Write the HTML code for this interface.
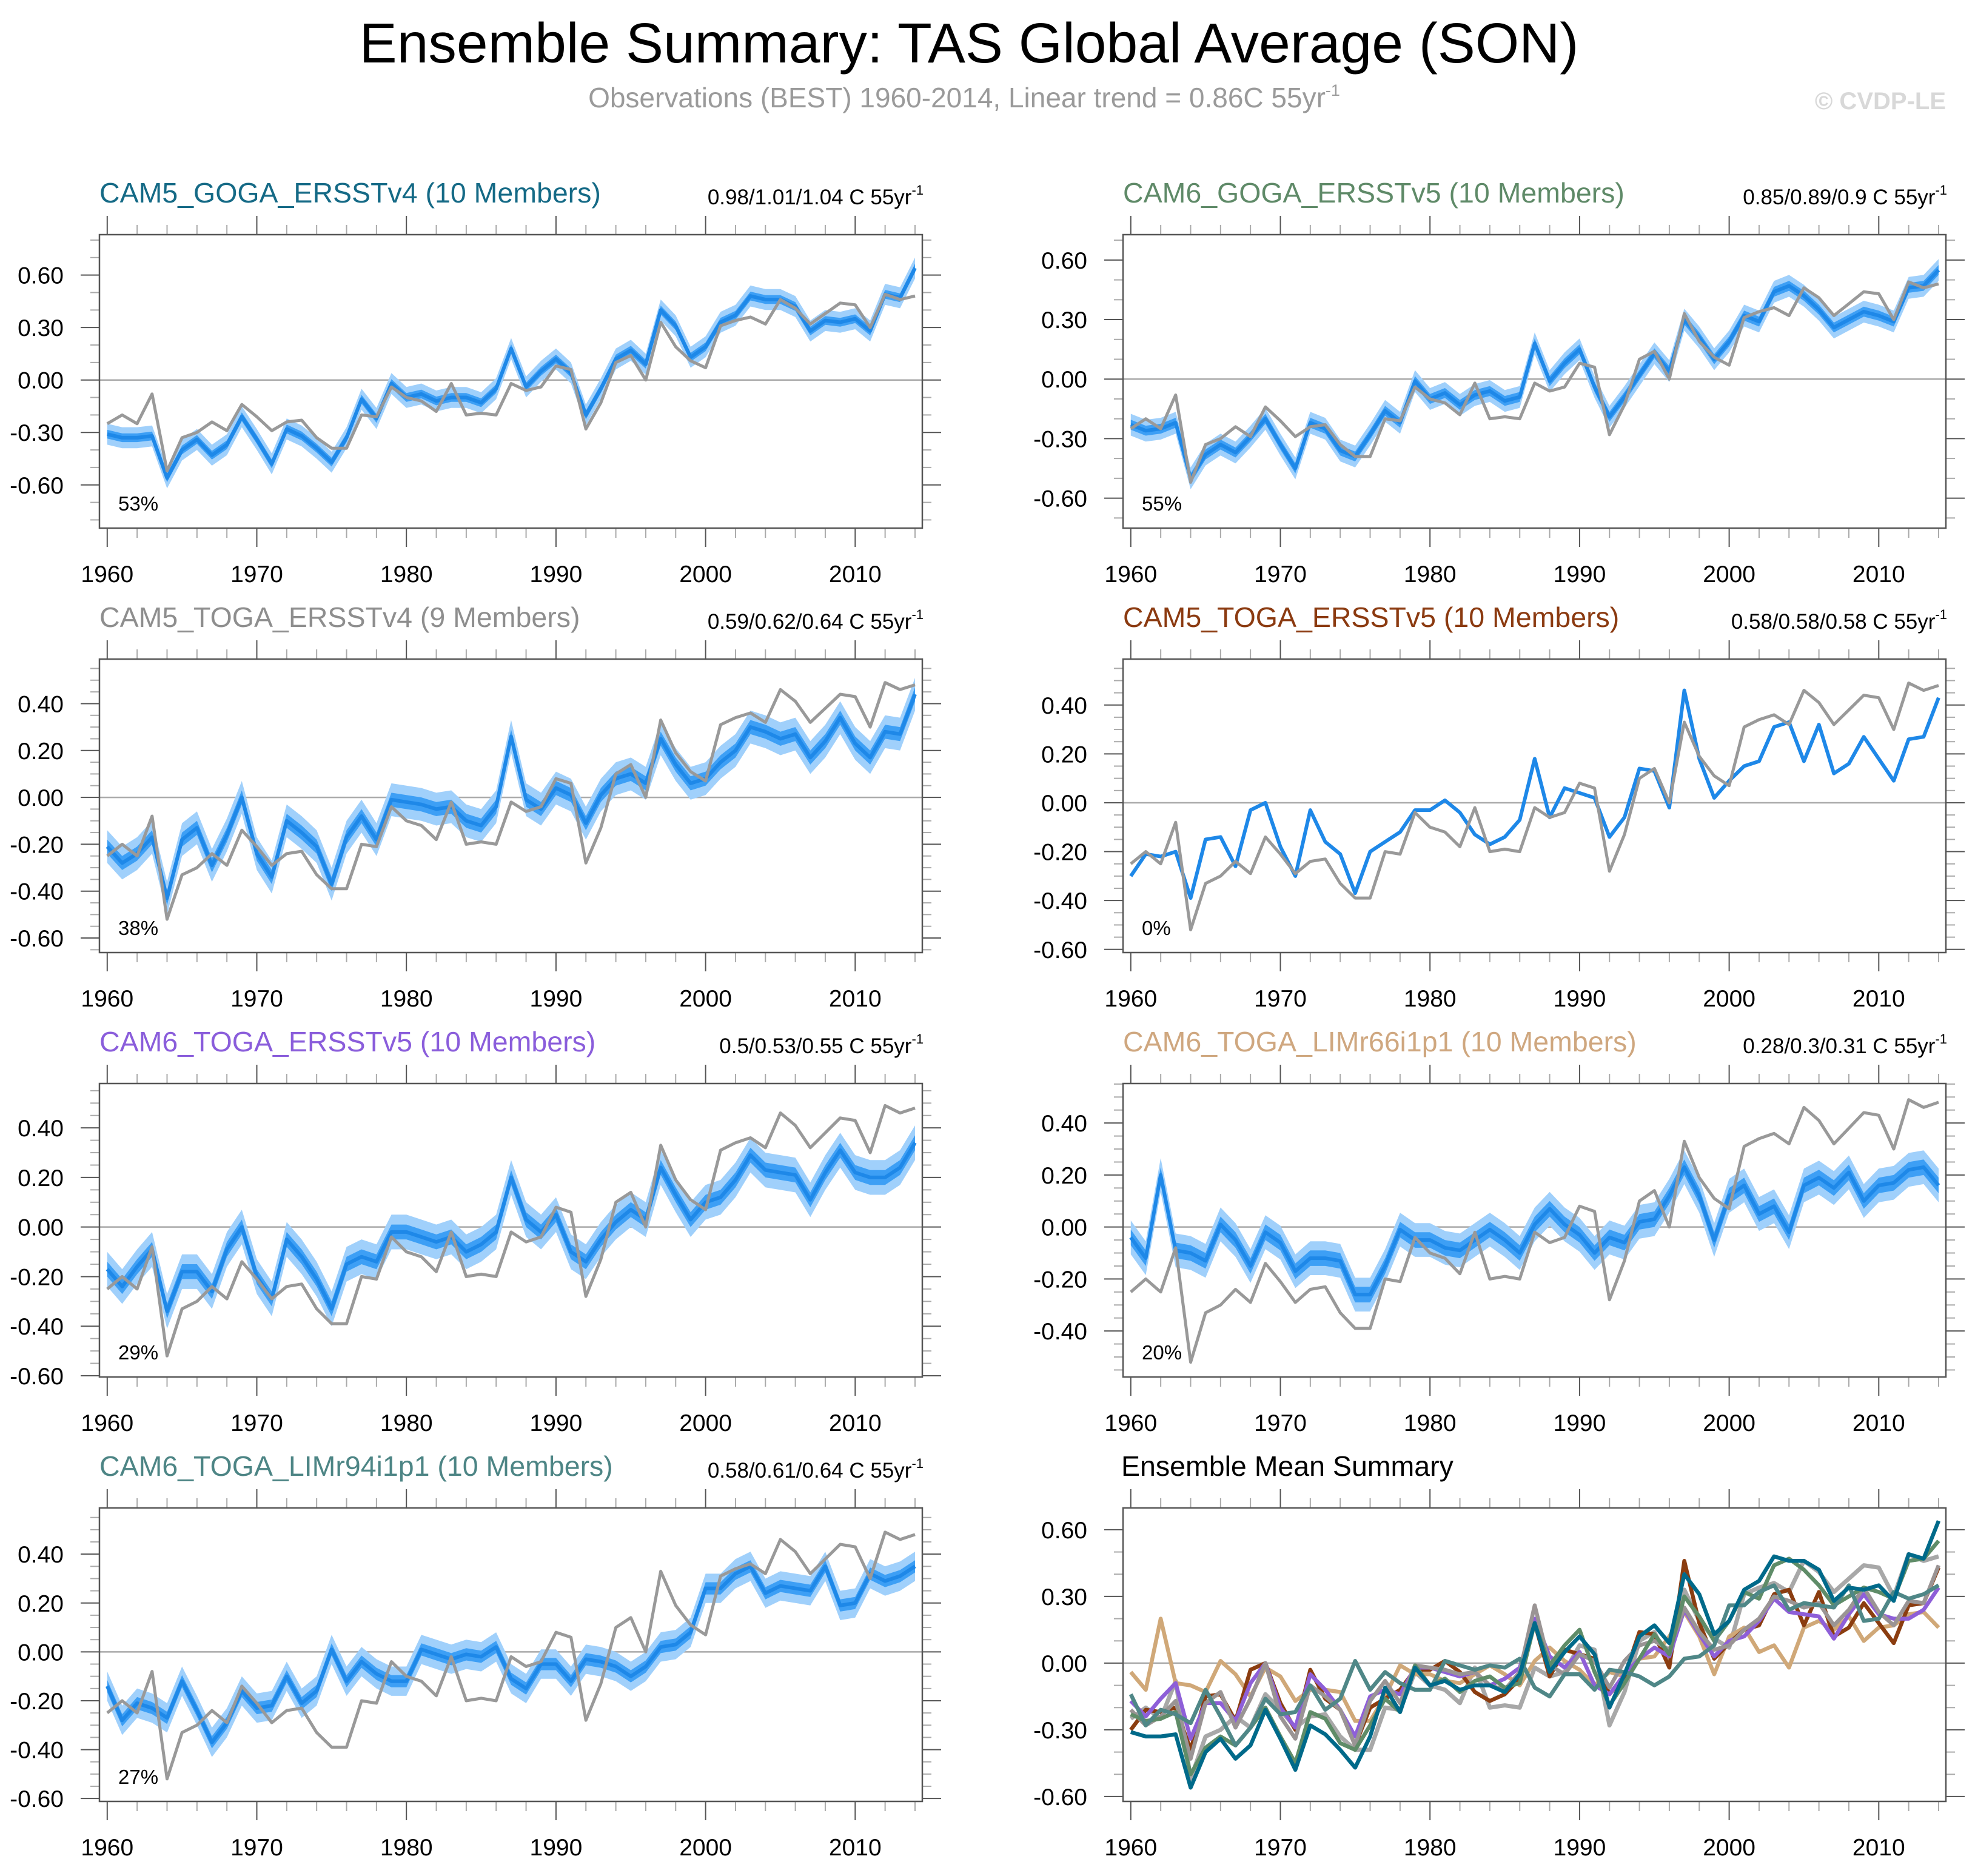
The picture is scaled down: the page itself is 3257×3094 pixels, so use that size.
<!DOCTYPE html>
<html><head><meta charset="utf-8"><title>Ensemble Summary: TAS Global Average (SON)</title>
<style>
html,body{margin:0;padding:0;background:#fff;}
svg{display:block;font-family:"Liberation Sans",Arial,sans-serif;}
</style></head>
<body>
<svg id="fig" xmlns="http://www.w3.org/2000/svg" width="3257" height="3094" viewBox="0 0 3257 3094">
<rect x="0" y="0" width="3257" height="3094" fill="#fff"/>
<text x="1598" y="103" font-size="93" text-anchor="middle" fill="#000">Ensemble Summary: TAS Global Average (SON)</text>
<text x="1590" y="177" font-size="46" text-anchor="middle" fill="#9a9a9a">Observations (BEST) 1960-2014, Linear trend = 0.86C 55yr<tspan font-size="27" dy="-19">-1</tspan></text>
<text x="3209" y="180" font-size="40" font-weight="bold" text-anchor="end" fill="#d8d8d8">© CVDP-LE</text>
</svg>
<script>
const years=[1960,1961,1962,1963,1964,1965,1966,1967,1968,1969,1970,1971,1972,1973,1974,1975,1976,1977,1978,1979,1980,1981,1982,1983,1984,1985,1986,1987,1988,1989,1990,1991,1992,1993,1994,1995,1996,1997,1998,1999,2000,2001,2002,2003,2004,2005,2006,2007,2008,2009,2010,2011,2012,2013,2014];
const obs=[-0.25,-0.20,-0.25,-0.08,-0.52,-0.33,-0.30,-0.24,-0.29,-0.14,-0.21,-0.29,-0.24,-0.23,-0.33,-0.39,-0.39,-0.20,-0.21,-0.04,-0.10,-0.12,-0.18,-0.02,-0.20,-0.19,-0.20,-0.02,-0.06,-0.04,0.08,0.06,-0.28,-0.13,0.10,0.14,0.00,0.33,0.19,0.11,0.07,0.31,0.34,0.36,0.32,0.46,0.41,0.32,0.38,0.44,0.43,0.30,0.49,0.46,0.48];
const mCam5Goga=[-0.31,-0.33,-0.33,-0.32,-0.56,-0.40,-0.34,-0.43,-0.37,-0.21,-0.34,-0.48,-0.28,-0.32,-0.39,-0.47,-0.33,-0.11,-0.22,-0.02,-0.10,-0.08,-0.12,-0.10,-0.10,-0.13,-0.05,0.18,-0.04,0.05,0.12,0.04,-0.20,-0.05,0.12,0.17,0.09,0.40,0.31,0.13,0.19,0.33,0.37,0.48,0.46,0.46,0.42,0.28,0.34,0.33,0.35,0.28,0.49,0.47,0.64];
const mCam6Goga=[-0.23,-0.26,-0.25,-0.22,-0.50,-0.38,-0.33,-0.37,-0.29,-0.20,-0.33,-0.45,-0.22,-0.25,-0.36,-0.39,-0.28,-0.16,-0.22,-0.01,-0.10,-0.07,-0.13,-0.08,-0.06,-0.11,-0.09,0.18,-0.01,0.08,0.15,-0.04,-0.19,-0.09,0.02,0.13,0.04,0.30,0.21,0.10,0.19,0.32,0.29,0.44,0.47,0.42,0.35,0.26,0.30,0.34,0.32,0.29,0.46,0.47,0.55];
const mCam5TogaV4=[-0.21,-0.28,-0.24,-0.17,-0.43,-0.18,-0.13,-0.29,-0.16,0.00,-0.24,-0.34,-0.10,-0.15,-0.21,-0.37,-0.17,-0.08,-0.18,-0.01,-0.02,-0.03,-0.05,-0.04,-0.10,-0.12,-0.04,0.26,-0.01,-0.05,0.04,0.01,-0.11,0.01,0.08,0.10,0.06,0.25,0.14,0.06,0.08,0.15,0.20,0.30,0.28,0.25,0.27,0.17,0.24,0.34,0.23,0.17,0.28,0.27,0.44];
const mCam5TogaV5=[-0.30,-0.21,-0.22,-0.20,-0.39,-0.15,-0.14,-0.26,-0.03,0.00,-0.18,-0.30,-0.03,-0.16,-0.21,-0.37,-0.20,-0.16,-0.12,-0.03,-0.03,0.01,-0.04,-0.13,-0.17,-0.14,-0.07,0.18,-0.06,0.06,0.04,0.02,-0.14,-0.06,0.14,0.13,-0.02,0.46,0.18,0.02,0.09,0.15,0.17,0.31,0.33,0.17,0.32,0.12,0.16,0.27,0.18,0.09,0.26,0.27,0.43];
const mCam6TogaV5=[-0.17,-0.24,-0.16,-0.09,-0.34,-0.18,-0.18,-0.26,-0.09,0.00,-0.20,-0.29,-0.05,-0.12,-0.21,-0.33,-0.15,-0.12,-0.14,-0.02,-0.02,-0.04,-0.06,-0.04,-0.10,-0.07,-0.02,0.20,0.03,-0.02,0.05,-0.10,-0.14,-0.05,0.02,0.07,0.03,0.24,0.13,0.03,0.10,0.12,0.19,0.29,0.23,0.22,0.21,0.11,0.22,0.31,0.22,0.20,0.20,0.24,0.34];
const mLim66=[-0.04,-0.12,0.20,-0.09,-0.10,-0.13,0.01,-0.05,-0.15,-0.02,-0.06,-0.17,-0.12,-0.12,-0.13,-0.26,-0.26,-0.15,-0.01,-0.05,-0.05,-0.08,-0.09,-0.05,-0.01,-0.05,-0.10,0.01,0.07,0.01,-0.03,-0.10,-0.04,-0.06,0.02,0.03,0.12,0.23,0.12,-0.05,0.12,0.16,0.05,0.08,-0.02,0.16,0.19,0.15,0.21,0.10,0.16,0.17,0.22,0.23,0.16];
const mLim94=[-0.14,-0.28,-0.21,-0.23,-0.27,-0.12,-0.24,-0.37,-0.29,-0.16,-0.23,-0.22,-0.10,-0.21,-0.16,0.01,-0.12,-0.04,-0.09,-0.12,-0.12,0.01,-0.01,-0.03,-0.01,-0.02,0.02,-0.11,-0.15,-0.05,-0.05,-0.12,-0.03,-0.04,-0.06,-0.10,-0.06,0.02,0.03,0.08,0.26,0.26,0.32,0.35,0.24,0.27,0.26,0.25,0.35,0.19,0.20,0.32,0.29,0.31,0.35];
const spreads=[[0.025,0.06],[0.025,0.055],[0.03,0.07],[0,0],[0.03,0.07],[0.03,0.065],[0.025,0.06]];
const percents=["53%","55%","38%","0%","29%","20%","27%"];
const trends=["0.98/1.01/1.04 C 55yr","0.85/0.89/0.9 C 55yr","0.59/0.62/0.64 C 55yr","0.58/0.58/0.58 C 55yr","0.5/0.53/0.55 C 55yr","0.28/0.3/0.31 C 55yr","0.58/0.61/0.64 C 55yr"];
const names=["CAM5_GOGA_ERSSTv4 (10 Members)","CAM6_GOGA_ERSSTv5 (10 Members)","CAM5_TOGA_ERSSTv4 (9 Members)","CAM5_TOGA_ERSSTv5 (10 Members)","CAM6_TOGA_ERSSTv5 (10 Members)","CAM6_TOGA_LIMr66i1p1 (10 Members)","CAM6_TOGA_LIMr94i1p1 (10 Members)"];
const nameColors=["#156a86","#5f8a68","#8e8e8e","#8b3a10","#8a5ddb","#cfa77f","#4d8585"];
const summaryColors=["#006a8a","#5f8c68","#9a9494","#8b3d10","#8e5fd8","#d0a878","#4f8787"];
const means=[mCam5Goga,mCam6Goga,mCam5TogaV4,mCam5TogaV5,mCam6TogaV5,mLim66,mLim94];
const yTicks03=[-0.6,-0.3,0,0.3,0.6];
const yTicks02=[-0.6,-0.4,-0.2,0,0.2,0.4];
const xTickYears=[1960,1970,1980,1990,2000,2010];

const NS="http://www.w3.org/2000/svg";
const svg=document.getElementById('fig');
function mk(tag,attrs,parent){const e=document.createElementNS(NS,tag);for(const k in attrs)e.setAttribute(k,attrs[k]);(parent||svg).appendChild(e);return e;}

const W=1357,H=484;
const panelDefs=[
 {x0:164,y0:387,ymin:-0.847,ymax:0.831,ticks:yTicks03,minor:0.1},
 {x0:1852,y0:387,ymin:-0.751,ymax:0.728,ticks:yTicks03,minor:0.1},
 {x0:164,y0:1087,ymin:-0.662,ymax:0.590,ticks:yTicks02,minor:0.05},
 {x0:1852,y0:1087,ymin:-0.613,ymax:0.588,ticks:yTicks02,minor:0.05},
 {x0:164,y0:1787,ymin:-0.605,ymax:0.579,ticks:yTicks02,minor:0.05},
 {x0:1852,y0:1787,ymin:-0.577,ymax:0.552,ticks:[-0.4,-0.2,0,0.2,0.4],minor:0.05},
 {x0:164,y0:2487,ymin:-0.612,ymax:0.589,ticks:yTicks02,minor:0.05},
 {x0:1852,y0:2487,ymin:-0.622,ymax:0.698,ticks:yTicks03,minor:0.1}
];
function xs(p,yr){return p.x0+12.8+(yr-1960)*24.67;}
function ys(p,v){return p.y0+(p.ymax-v)/(p.ymax-p.ymin)*H;}
function pts(p,arr){return arr.map((v,i)=>xs(p,years[i]).toFixed(1)+','+ys(p,v).toFixed(1)).join(' ');}

function drawAxes(p,g){
  const start=Math.ceil(p.ymin/p.minor-1e-6),end=Math.floor(p.ymax/p.minor+1e-6);
  for(let k=start;k<=end;k++){
    const v=k*p.minor;const y=ys(p,v);
    const major=p.ticks.some(t=>Math.abs(t-v)<1e-6);
    const len=major?31:15;
    const t1=mk('line',{x1:p.x0-len,y1:y,x2:p.x0,y2:y,stroke:major?'#555':'#aaa','stroke-width':2},g);
    
    
    const t2=mk('line',{x1:p.x0+W,y1:y,x2:p.x0+W+len,y2:y,stroke:major?'#555':'#aaa','stroke-width':2},g);
    
    
  }
  p.ticks.forEach(v=>{
    const t=mk('text',{x:p.x0-59,y:ys(p,v)+14,'font-size':39,'text-anchor':'end',fill:'#000'},g);
    
    
    t.textContent=v.toFixed(2);
  });
  for(let yr=1960;yr<=2014;yr+=2){
    const x=xs(p,yr);const major=(yr%10===0);const len=major?31:16;
    const a=mk('line',{x1:x,y1:p.y0-len,x2:x,y2:p.y0,stroke:major?'#555':'#aaa','stroke-width':2},g);
    
    
    const b=mk('line',{x1:x,y1:p.y0+H,x2:x,y2:p.y0+H+len,stroke:major?'#555':'#aaa','stroke-width':2},g);
    
    
  }
  xTickYears.forEach(yr=>{
    const t=mk('text',{x:xs(p,yr),y:p.y0+H+89,'font-size':39,'text-anchor':'middle',fill:'#000'},g);
    
    
    t.textContent=String(yr);
  });
  const z=mk('line',{x1:p.x0,y1:ys(p,0),x2:p.x0+W,y2:ys(p,0),stroke:'#aaa','stroke-width':2.5},g);
  
  
}
function drawBox(p,g){
  const r=mk('rect',{x:p.x0,y:p.y0,width:W,height:H,fill:'none',stroke:'#555','stroke-width':2.5},g);
  
  
}
function band(p,arr,s,fill,g,nm){
  const up=arr.map((v,i)=>xs(p,years[i]).toFixed(1)+','+ys(p,v+s).toFixed(1));
  const dn=arr.map((v,i)=>xs(p,years[i]).toFixed(1)+','+ys(p,v-s).toFixed(1)).reverse();
  const poly=mk('polygon',{points:up.concat(dn).join(' '),fill:fill,stroke:'none'},g);
  
  
}

for(let i=0;i<7;i++){
  const p=panelDefs[i];
  const g=mk('g',{});
  
  
  const tt=mk('text',{x:p.x0,y:p.y0-53,'font-size':46.5,fill:nameColors[i]},g);
  
  
  tt.textContent=names[i];
  const tr=mk('text',{x:p.x0+W+2,y:p.y0-50,'font-size':35,'text-anchor':'end',fill:'#000'},g);
  
  
  tr.textContent=trends[i];
  const sup=mk('tspan',{'font-size':22,dy:-16},tr);
  sup.textContent='-1';
  drawAxes(p,g);
  const m=means[i];
  if(spreads[i][1]>0){
    band(p,m,spreads[i][1],'#a0d0fb',g,'spread-band-outer');
    band(p,m,spreads[i][0],'#3d9ff5',g,'spread-band-inner');
  }
  const ml=mk('polyline',{points:pts(p,m),fill:'none',stroke:'#1e88e8','stroke-width':6,'stroke-linejoin':'round'},g);
  
  
  const ol=mk('polyline',{points:pts(p,obs),fill:'none',stroke:'#999','stroke-width':5,'stroke-linejoin':'round'},g);
  
  
  const pc=mk('text',{x:p.x0+31,y:p.y0+455,'font-size':33,fill:'#000'},g);
  
  
  pc.textContent=percents[i];
  drawBox(p,g);
}
{
  const p=panelDefs[7];
  const g=mk('g',{});
  
  
  const tt=mk('text',{x:p.x0-3,y:p.y0-53,'font-size':46.5,fill:'#000'},g);
  
  
  tt.textContent='Ensemble Mean Summary';
  drawAxes(p,g);
  const ol=mk('polyline',{points:pts(p,obs),fill:'none',stroke:'#a8a8a8','stroke-width':7,'stroke-linejoin':'round'},g);
  
  
  const order=[5,3,4,2,1,6,0];
  order.forEach(k=>{
    const l=mk('polyline',{points:pts(p,means[k]),fill:'none',stroke:summaryColors[k],'stroke-width':6.5,'stroke-linejoin':'round'},g);
    
    
  });
  drawBox(p,g);
}
</script>
</body></html>
